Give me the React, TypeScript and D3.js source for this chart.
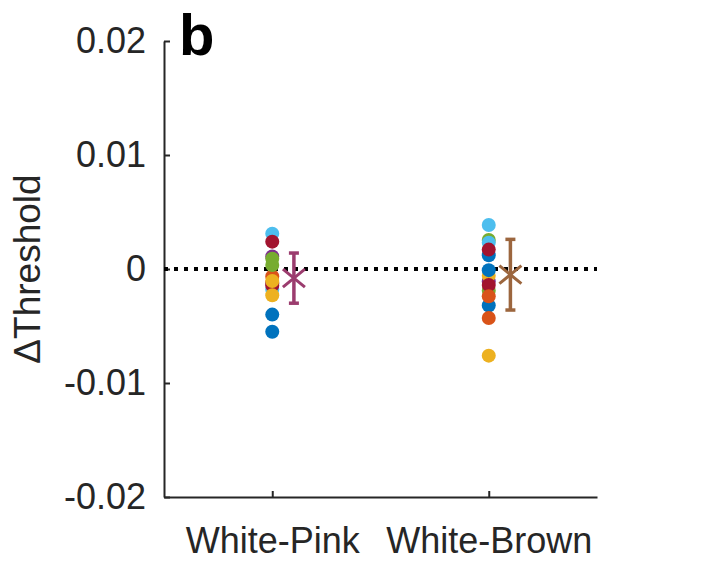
import { useEffect, useRef } from "react";
import * as d3 from "d3";

// MATLAB default colour order, one per subject
const subjectColors = ["#0072BD", "#D95319", "#EDB120", "#7E2F8E", "#77AC30", "#4DBEEE", "#A2142F"];

const conditions = ["White-Pink", "White-Brown"];
const conditionColors = ["#9B3C6E", "#9C663E"];

// per-subject change in threshold, in drawing order
const pinkDelta = [-0.004, -0.0055, -0.00065, -0.0012, 0.0011, -0.0013, 0.0009, 0.00035, 0.0031, -0.0018, 0.0024, -0.00146, -0.00105, -0.0023];
const pinkSubject = [0, 0, 1, 1, 3, 3, 4, 4, 5, 5, 6, 6, 2, 2];

const brownDelta = [0.00255, -0.0019, -0.0011, -0.0006, -0.0076, -0.0032, 0.00386, 0.0023, 0.0012, 0.0017, -0.0001, -0.0014, -0.0024, -0.0043];
const brownSubject = [4, 4, 3, 2, 2, 0, 5, 5, 0, 6, 0, 6, 1, 1];

// group mean and error bar half-length
const groupMean = [-0.0008, -0.0005];
const groupErr = [0.0022, 0.0031];

const yTicks = [-0.02, -0.01, 0, 0.01, 0.02];

const FONT = "'Liberation Sans', Arial, Helvetica, sans-serif";
const AXIS = "#262626";

const App = () => {
  const ref = useRef<SVGSVGElement>(null!);

  useEffect(() => {
    const width = 703;
    const height = 563;
    const svg = d3.select(ref.current);
    svg.selectAll("*").remove();
    svg.attr("width", width).attr("height", height);

    const x = d3.scaleLinear().domain([0.5, 2.5]).range([164, 597]);
    const y = d3.scaleLinear().domain([-0.02, 0.02]).range([497, 41]);

    // axes, ticks pointing inward
    const yAxis = svg
      .append("g")
      .attr("transform", `translate(${x(0.5)},0)`)
      .call(
        d3
          .axisLeft(y)
          .tickValues(yTicks)
          .tickSizeInner(-6)
          .tickSizeOuter(0)
          .tickPadding(18)
          .tickFormat((d) => (+d === 0 ? "0" : String(+d)))
      );

    const xAxis = svg
      .append("g")
      .attr("transform", `translate(0,${y(-0.02)})`)
      .call(
        d3
          .axisBottom(x)
          .tickValues([1, 2])
          .tickSizeInner(-6)
          .tickSizeOuter(0)
          .tickPadding(30)
          .tickFormat((d) => conditions[+d - 1])
      );

    [yAxis, xAxis].forEach((g) => {
      g.select(".domain").attr("stroke", AXIS).attr("stroke-width", 2);
      g.selectAll(".tick line").attr("stroke", AXIS).attr("stroke-width", 2);
      g.selectAll(".tick text").attr("fill", AXIS).style("font-family", FONT).style("font-size", "36px");
    });

    // zero reference line
    svg
      .append("line")
      .attr("x1", x(0.5))
      .attr("x2", x(2.5))
      .attr("y1", y(0))
      .attr("y2", y(0))
      .attr("stroke", "#000")
      .attr("stroke-width", 4)
      .attr("stroke-dasharray", "4 6");

    // subject dots
    const groups = [
      { delta: pinkDelta, subject: pinkSubject },
      { delta: brownDelta, subject: brownSubject },
    ];
    groups.forEach((grp, gi) => {
      svg
        .append("g")
        .selectAll("circle")
        .data(grp.delta)
        .enter()
        .append("circle")
        .attr("cx", x(gi + 1))
        .attr("cy", (d) => y(d))
        .attr("r", 7)
        .attr("fill", (_, i) => subjectColors[grp.subject[i]]);
    });

    // mean markers with error bars
    groupMean.forEach((m, gi) => {
      const cx = x(gi + 1.1);
      const c = conditionColors[gi];
      const g = svg.append("g").attr("stroke", c).attr("stroke-width", 3.5).attr("fill", "none");
      g.append("line").attr("x1", cx).attr("x2", cx).attr("y1", y(m + groupErr[gi])).attr("y2", y(m - groupErr[gi]));
      [m + groupErr[gi], m - groupErr[gi]].forEach((v) =>
        g.append("line").attr("x1", cx - 5).attr("x2", cx + 5).attr("y1", y(v)).attr("y2", y(v))
      );
      const cy = y(m);
      g.append("path")
        .attr("d", `M${cx - 11},${cy - 9}L${cx + 11},${cy + 9}M${cx - 11},${cy + 9}L${cx + 11},${cy - 9}`)
        .attr("stroke-width", 3);
    });

    // y label
    svg
      .append("text")
      .attr("transform", `translate(40,${y(0)}) rotate(-90)`)
      .attr("text-anchor", "middle")
      .attr("fill", AXIS)
      .style("font-family", FONT)
      .style("font-size", "37px")
      .text("\u0394Threshold");

    // panel letter
    svg
      .append("text")
      .attr("x", 179)
      .attr("y", 55)
      .attr("fill", "#000")
      .style("font-family", FONT)
      .style("font-size", "58px")
      .style("font-weight", "bold")
      .text("b");
  }, []);

  return <svg ref={ref} style={{ position: "absolute", left: 0, top: 0, background: "#fff" }} />;
};

export default App;
